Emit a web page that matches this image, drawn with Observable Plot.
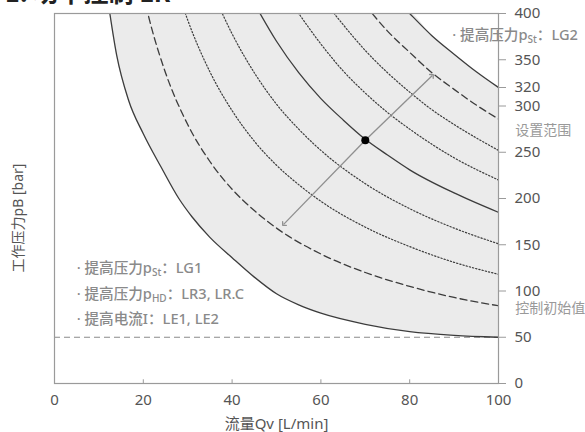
<!DOCTYPE html>
<html>
<head>
<meta charset="utf-8">
<script src="https://cdn.jsdelivr.net/npm/d3@7"></script>
<script src="https://cdn.jsdelivr.net/npm/@observablehq/plot@0.6"></script>
<style>
  html, body { margin: 0; padding: 0; background: #fff; overflow: hidden; }
  #wrap { position: relative; width: 585px; height: 432px; }
  #title { position: absolute; left: 5px; top: -24px; font: bold 25px/30px "Noto Sans CJK SC", "Noto Sans", sans-serif; color: #222; white-space: nowrap; }
  #ylab { position: absolute; left: 17px; top: 218px; transform: translate(-50%, -50%) rotate(-90deg); font: 14px "Noto Sans", "Noto Sans CJK SC", sans-serif; color: #555; white-space: nowrap; }
  svg text { font-family: "Noto Sans", "Noto Sans CJK SC", sans-serif; }
</style>
</head>
<body>
<div id="wrap">
  <div id="title">1. 功率控制 LR</div>
  <div id="ylab"></div>
</div>
<script>
// ---- data ----
const xTicks = [0, 20, 40, 60, 80, 100];
const yTicks = [0, 50, 100, 150, 200, 250, 300, 320, 350, 400];

// power curves: flow Q [L/min] and pressure p [bar]
const c1Q = [12, 14, 16.7, 20, 24, 28, 31, 35, 40, 45, 50, 55, 60, 70, 80, 90, 100];
const c1P = [415, 355, 306, 270, 234, 200, 180, 158, 136, 115, 97, 85, 76, 64, 56, 52, 50];
const c2Q = [20, 22, 25, 30, 35, 40, 45, 50, 60, 70, 80, 90, 100];
const c2P = [420, 382, 336, 280, 240, 210, 187, 168, 140, 120, 105, 93, 84];
const c3Q = [28, 30, 35, 40, 45, 50, 55, 60, 70, 80, 90, 100];
const c3P = [421, 393, 337, 295, 262, 236, 215, 197, 169, 148, 131, 118];
const c4Q = [36, 40, 45, 50, 55, 60, 70, 80, 90, 100];
const c4P = [419, 378, 336, 302, 275, 252, 216, 189, 168, 151];
const c5Q = [45, 50, 55, 60, 65, 70, 75, 80, 90, 100];
const c5P = [411, 370, 336, 308, 285, 264, 247, 231, 206, 185];
const c6Q = [54, 60, 65, 70, 75, 80, 90, 100];
const c6P = [407, 367, 338, 314, 293, 275, 244, 220];
const c7Q = [62, 65, 70, 75, 80, 85, 90, 100];
const c7P = [406, 388, 360, 336, 315, 296, 280, 252];
const c8Q = [70, 75, 80, 85, 90, 95, 100];
const c8P = [409, 381, 358, 336, 318, 301, 286];
const c9Q = [78, 80, 85, 90, 95, 100];
const c9P = [410, 400, 376, 356, 337, 320];
const curveStyles = ["solid", "dashed", "dotted", "dotted", "solid", "dotted", "dotted", "dashed", "solid"];

// shaded setting range (between lowest and highest curve)
const fillQ  = [12, 14, 16.7, 20, 24, 28, 31, 35, 40, 45, 50, 55, 60, 70, 78, 80, 85, 90, 95, 100];
const fillLo = [415, 355, 306, 270, 234, 200, 180, 158, 136, 115, 97, 85, 76, 64, 57, 56, 54, 52, 51, 50];
const fillHi = [400, 400, 400, 400, 400, 400, 400, 400, 400, 400, 400, 400, 400, 400, 400, 400, 376, 356, 337, 320];

const baseLine = [50];              // control start value
const operatingPoint = {q: 70, p: 263};
const arrowEnds = [{q: 51.6, p: 172}, {q: 85.1, p: 333}];

const notesLeft = ["· 提高压力pSt：LG1", "· 提高压力pHD：LR3, LR.C", "· 提高电流I：LE1, LE2"];
const notesLeftP = [124, 96, 69];
const noteTop = "· 提高压力pSt：LG2";
const sideLabels = ["设置范围", "控制初始值"];
const sideLabelsP = [273, 81];
const xLabel = "流量Qv [L/min]";
const yLabel = "工作压力pB [bar]";

// ---- build tables ----
const curvesQ = [c1Q, c2Q, c3Q, c4Q, c5Q, c6Q, c7Q, c8Q, c9Q];
const curvesP = [c1P, c2P, c3P, c4P, c5P, c6P, c7P, c8P, c9P];
const curveRows = curvesQ.flatMap((qs, i) => qs.map((q, j) => ({id: i, style: curveStyles[i], q, p: curvesP[i][j]})));
const fillRows = fillQ.map((q, i) => ({q, lo: fillLo[i], hi: fillHi[i]}));

const ink = "#3c3c3c";
const chart = Plot.plot({
  width: 585,
  height: 432,
  marginLeft: 54,
  marginRight: 87,
  marginTop: 13,
  marginBottom: 49,
  style: {background: "transparent", fontSize: "15px", color: "#555"},
  x: {domain: [0, 100]},
  y: {domain: [0, 400]},
  marks: [
    Plot.areaY(fillRows, {x: "q", y1: "lo", y2: "hi", fill: "#ebebeb", curve: "monotone-x", clip: true}),
    Plot.ruleY(baseLine, {x1: 0, x2: 100, stroke: "#8a8a8a", strokeWidth: 1, strokeDasharray: "6,4"}),
    Plot.line(curveRows, {filter: d => d.style === "solid", x: "q", y: "p", z: "id", stroke: ink, strokeWidth: 1.3, curve: "monotone-x", clip: true}),
    Plot.line(curveRows, {filter: d => d.style === "dashed", x: "q", y: "p", z: "id", stroke: ink, strokeWidth: 1.3, strokeDasharray: "7,4", curve: "monotone-x", clip: true}),
    Plot.line(curveRows, {filter: d => d.style === "dotted", x: "q", y: "p", z: "id", stroke: ink, strokeWidth: 1.2, strokeDasharray: "1.3,2", curve: "monotone-x", clip: true}),
    Plot.link(arrowEnds, {x1: () => operatingPoint.q, y1: () => operatingPoint.p, x2: "q", y2: "p", stroke: "#8f8f8f", strokeWidth: 1.3, markerEnd: "arrow"}),
    Plot.dot([operatingPoint], {x: "q", y: "p", r: 4, fill: "#000"}),
    Plot.frame({stroke: "#9a9a9a", strokeWidth: 1.2}),
    Plot.ruleX(xTicks, {y1: 0, y2: 4, stroke: "#9a9a9a"}),
    Plot.axisX({ticks: xTicks, tickSize: 0, tickPadding: 11, tickFormat: d => d, fontSize: 15, color: "#555",
      label: xLabel, labelAnchor: "center", labelOffset: 45, labelArrow: "none"}),
    Plot.axisY({anchor: "right", ticks: yTicks, tickSize: 7, tickPadding: 9, tickFormat: d => d, fontSize: 15, color: "#555", stroke: "#9a9a9a", label: null}),
    Plot.axisY({anchor: "left", ticks: [], label: null}),
    Plot.text(notesLeft, {x: () => 5, y: (d, i) => notesLeftP[i], text: d => d, textAnchor: "start", fill: "#8a8a8a", fontSize: 14.6, fontWeight: 500}),
    Plot.text([noteTop], {x: () => 89.6, y: () => 376, text: d => d, textAnchor: "start", fill: "#8a8a8a", fontSize: 14.6, fontWeight: 500, clip: false}),
    Plot.text(sideLabels, {x: () => 103.8, y: (d, i) => sideLabelsP[i], text: d => d, textAnchor: "start", fill: "#999", fontSize: 14})
  ]
});

// subscripts for p_St / p_HD
chart.querySelectorAll("text").forEach(t => {
  const s = t.textContent;
  const m = s.match(/^(.*p)(St|HD)(.*)$/);
  if (m && t.children.length === 0) {
    t.textContent = "";
    const ns = "http://www.w3.org/2000/svg";
    const a = document.createElementNS(ns, "tspan"); a.textContent = m[1];
    const b = document.createElementNS(ns, "tspan"); b.textContent = m[2]; b.setAttribute("font-size", "10"); b.setAttribute("dy", "3");
    const c = document.createElementNS(ns, "tspan"); c.textContent = m[3]; c.setAttribute("dy", "-3");
    t.append(a, b, c);
  }
});

document.getElementById("ylab").textContent = yLabel;
document.getElementById("wrap").appendChild(chart);
chart.style.position = "absolute";
chart.style.left = "0";
chart.style.top = "0";
</script>
</body>
</html>
